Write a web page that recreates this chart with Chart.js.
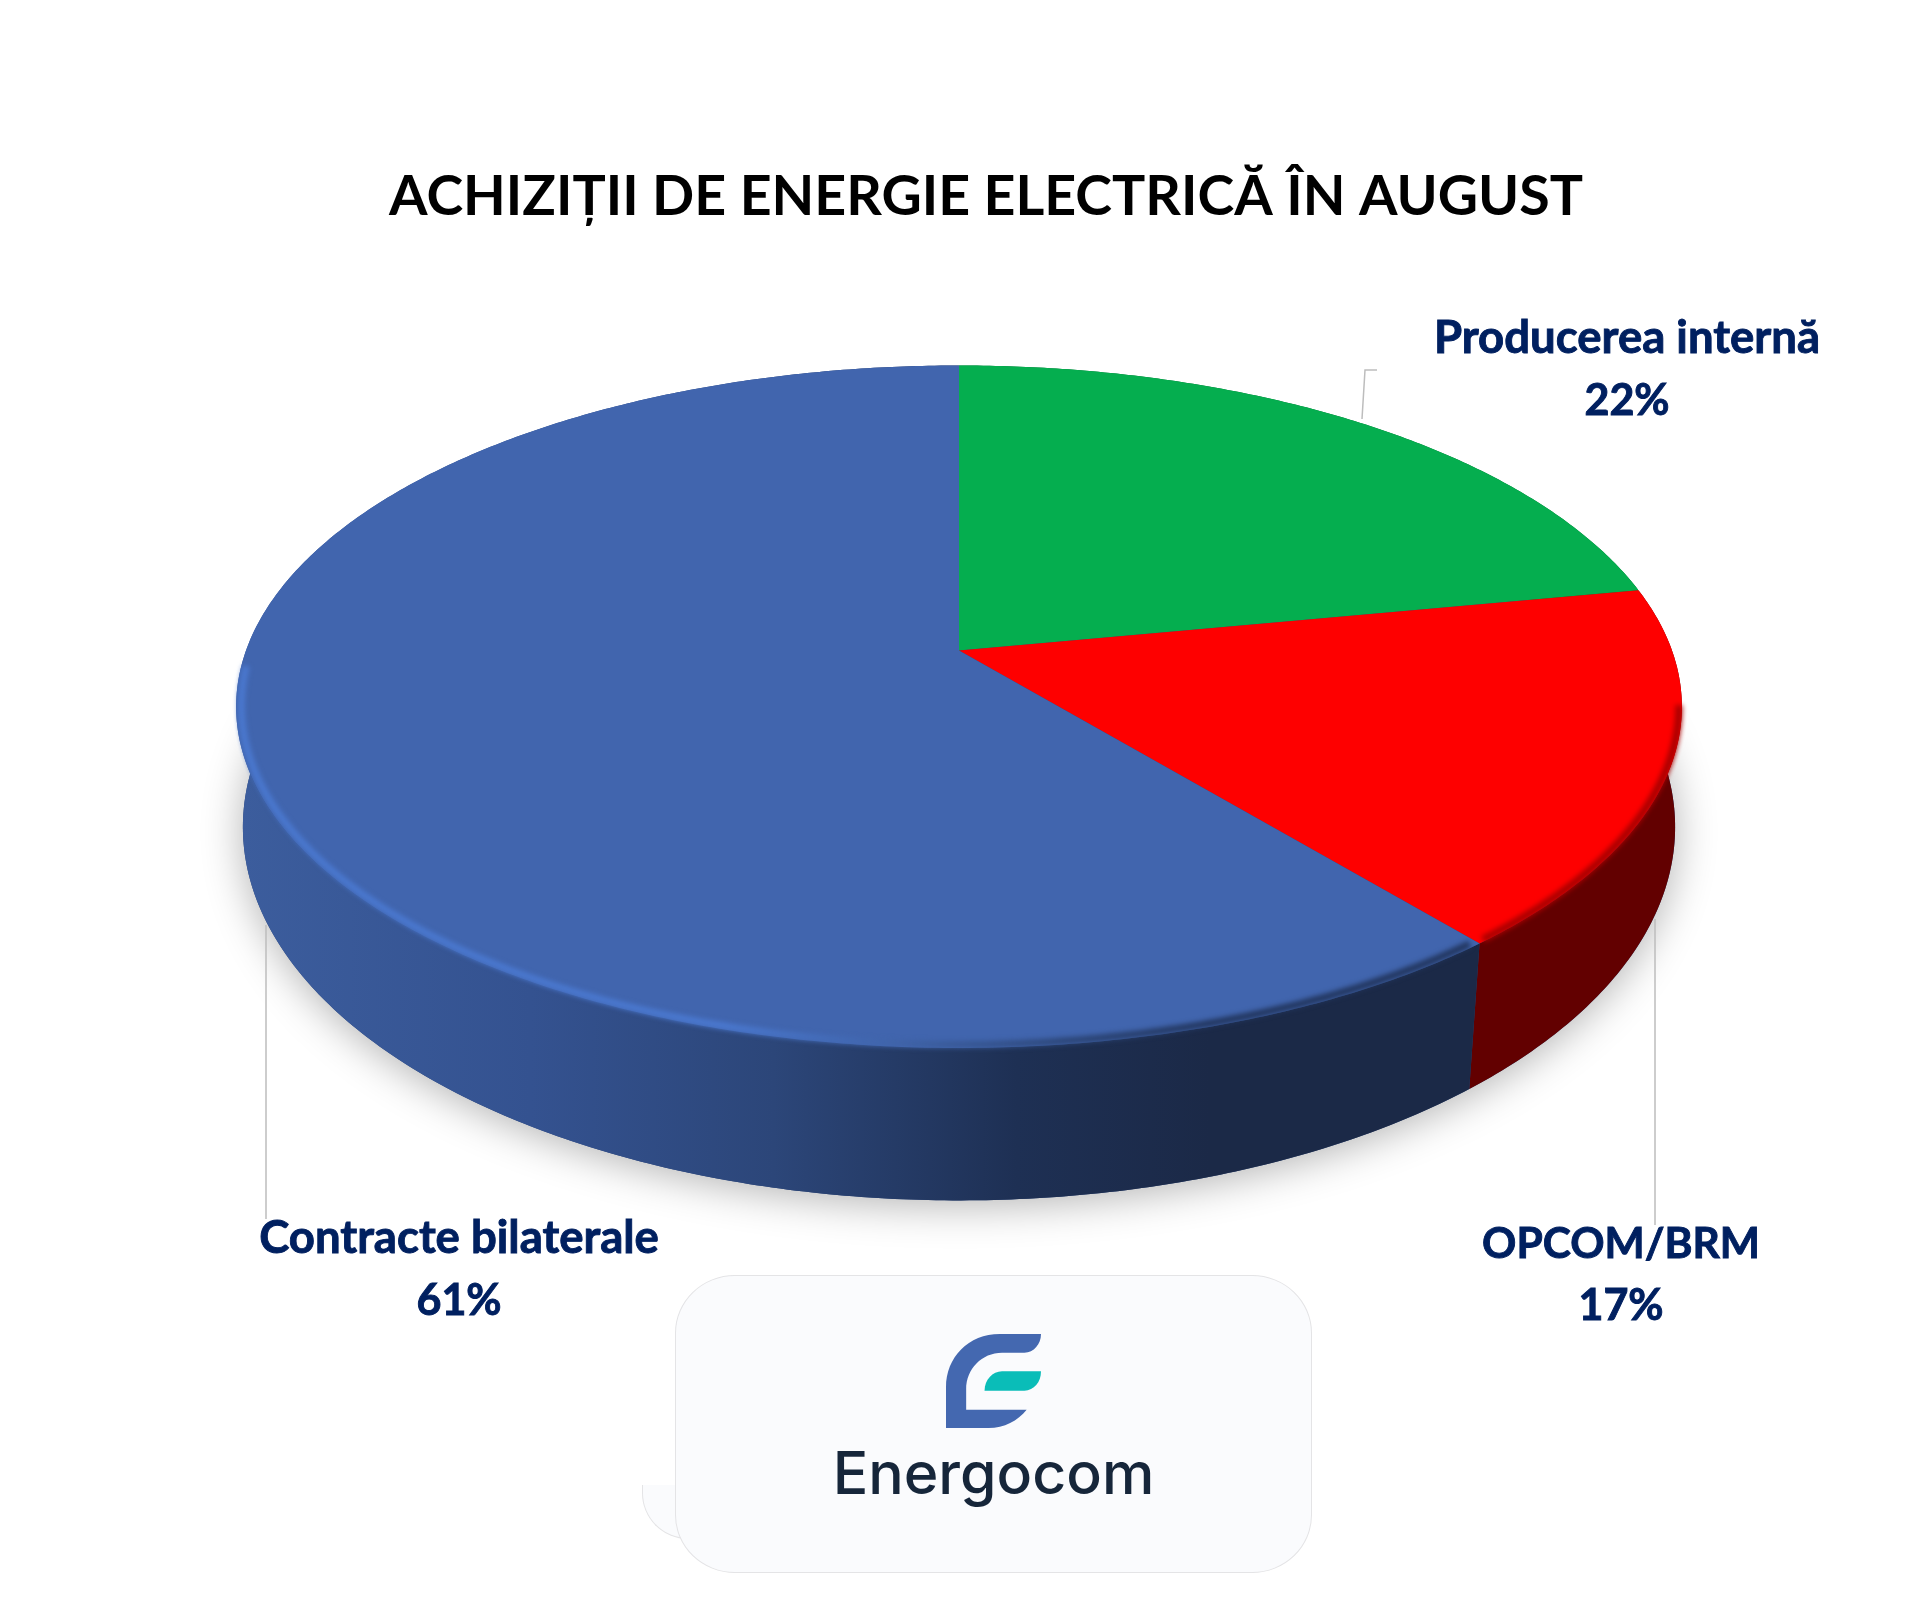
<!DOCTYPE html>
<html lang="ro">
<head>
<meta charset="UTF-8">
<title>Achiziții de energie electrică în august</title>
<script src="https://cdn.jsdelivr.net/npm/chart.js@4.4.1/dist/chart.umd.min.js"></script>
<style>
    html, body { margin: 0; background: #fff; }
    #wrap { position: relative; width: 1920px; height: 1610px; overflow: hidden; }
    canvas { display: block; }
    .tail {
        position: absolute; left: 642px; top: 1485px; width: 90px; height: 53px;
        background: #fafbfd; border-left: 1px solid #e4e4e6; border-bottom: 1px solid #e4e4e6;
        border-bottom-left-radius: 46px;
    }
    .logo {
        position: absolute; left: 675px; top: 1275px; width: 637px; height: 298px; box-sizing: border-box;
        background: #fafbfd; border: 1.5px solid #e4e4e6; border-radius: 60px / 58px;
    }
    .logo svg { position: absolute; left: 270px; top: 58px; }
    .logo span {
        position: absolute; left: 0; width: 100%; top: 161px; text-align: center;
        font: 500 59px Inter, sans-serif; color: #16263a; line-height: 72px;
    }
</style>
</head>
<body>
<div id="wrap">
    <canvas id="pie" width="1920" height="1610"></canvas>
    <div class="tail"></div>
    <div class="logo">
        <svg width="95" height="94" viewBox="0 0 212 282" preserveAspectRatio="none">
            <path fill="#4468b0" d="M120 0H212C212 30 196 56 175 56H125C80 56 45 105 45 165V227H180C160 260 130 282 95 282H0V160C0 70 50 0 120 0Z"/>
            <path fill="#0abdb8" d="M86 170C86 138 104 112 125 112H212C212 145 196 170 175 170Z"/>
        </svg>
        <span>Energocom</span>
    </div>
</div>

<script>
const titleText = 'ACHIZIȚII DE ENERGIE ELECTRICĂ ÎN AUGUST';
const categories = ['Producerea internă', 'OPCOM/BRM', 'Contracte bilaterale'];
const shares = [22, 17, 61];
const topColors = ['#05ae4f', '#fe0000', '#4165ae'];

// label anchor for each slice: center x, first baseline, name size
const labelX = [1627, 1621, 459];
const labelY = [353, 1258, 1253];
const labelSize = [45.5, 42.5, 45.5];

// leader lines, one per slice
const leaders = [
    [[1362, 419], [1365, 370], [1377, 370]],
    [[1655, 919], [1655, 1225]],
    [[266, 925], [266, 1219]]
];

// perspective of the disc: top face and the (slightly further) bottom face
const cx = 959;
const topRing = { cy: 650.5, ax: 713, by: 332, tilt: -0.1647 };
const bottomRing = { cy: 771, ax: 708, by: 365, tilt: -0.15 };

function project(angle, ring, r = 1) {
    const X = Math.cos(angle) * r, Y = Math.sin(angle) * r;
    const w = 1 + ring.tilt * Y;
    return [cx + ring.ax * X / w, ring.cy + ring.by * Y / w];
}

function arcPoints(from, to, ring, r) {
    const pts = [];
    const steps = Math.max(2, Math.ceil(Math.abs(to - from) / 0.01));
    for (let i = 0; i <= steps; i++) {
        pts.push(project(from + (to - from) * i / steps, ring, r));
    }
    return pts;
}

function tracePoints(ctx, pts, first) {
    pts.forEach((p, i) => {
        if (i === 0 && first) ctx.moveTo(p[0], p[1]);
        else ctx.lineTo(p[0], p[1]);
    });
}

function wallFill(ctx, index) {
    if (index === 1) return '#620000';
    if (index === 0) return '#036b30';
    const g = ctx.createLinearGradient(240, 0, 1210, 0);
    g.addColorStop(0, '#3c5d9d');
    g.addColorStop(0.3, '#345290');
    g.addColorStop(0.55, '#2c4679');
    g.addColorStop(0.8, '#1e3054');
    g.addColorStop(1, '#1b2947');
    return g;
}

const disc3d = {
    id: 'disc3d',
    beforeDatasetsDraw(chart) {
        const ctx = chart.ctx;
        const arcs = chart.getDatasetMeta(0).data;

        // soft shadow under the disc
        ctx.save();
        ctx.shadowColor = 'rgba(0,0,0,0.3)';
        ctx.shadowBlur = 42;
        ctx.shadowOffsetY = 5;
        ctx.fillStyle = '#2c4679';
        ctx.beginPath();
        tracePoints(ctx, arcPoints(0, Math.PI * 2, bottomRing), true);
        ctx.closePath();
        ctx.fill();
        ctx.restore();

        // side wall
        arcs.forEach((arc, i) => {
            ctx.beginPath();
            tracePoints(ctx, arcPoints(arc.startAngle, arc.endAngle, topRing), true);
            tracePoints(ctx, arcPoints(arc.endAngle, arc.startAngle, bottomRing), false);
            ctx.closePath();
            ctx.fillStyle = wallFill(ctx, i);
            ctx.fill();
        });

        // top face
        arcs.forEach((arc, i) => {
            ctx.beginPath();
            ctx.moveTo(cx, topRing.cy);
            tracePoints(ctx, arcPoints(arc.startAngle, arc.endAngle, topRing), false);
            ctx.closePath();
            ctx.fillStyle = arc.options.backgroundColor;
            ctx.fill();
        });

        // bevel along the front edge
        const red = arcs[1], blue = arcs[2];
        ctx.save();
        ctx.filter = 'blur(2.5px)';
        ctx.lineWidth = 7;
        ctx.beginPath();
        tracePoints(ctx, arcPoints(blue.startAngle + 0.01, Math.PI * 0.985, topRing, 0.993), true);
        const g = ctx.createLinearGradient(240, 0, 1210, 0);
        g.addColorStop(0, '#4a78cf');
        g.addColorStop(0.5, '#4a78cf');
        g.addColorStop(0.68, '#3f63a8');
        g.addColorStop(0.85, '#2c4678');
        g.addColorStop(1, '#22365f');
        ctx.strokeStyle = g;
        ctx.stroke();
        ctx.beginPath();
        tracePoints(ctx, arcPoints(red.startAngle + 0.35, red.endAngle - 0.01, topRing, 0.996), true);
        ctx.strokeStyle = '#a80000';
        ctx.stroke();
        ctx.restore();

        // leader lines
        ctx.strokeStyle = '#bdbdbd';
        ctx.lineWidth = 1.5;
        leaders.forEach(line => {
            ctx.beginPath();
            tracePoints(ctx, line, true);
            ctx.stroke();
        });

        // labels
        ctx.fillStyle = '#002060';
        ctx.strokeStyle = '#002060';
        ctx.lineWidth = 0.9;
        ctx.textAlign = 'center';
        ctx.textBaseline = 'alphabetic';
        categories.forEach((name, i) => {
            ctx.font = 'bold ' + labelSize[i] + 'px Lato, sans-serif';
            ctx.fillText(name, labelX[i], labelY[i]);
            ctx.strokeText(name, labelX[i], labelY[i]);
            ctx.font = 'bold 43px Lato, sans-serif';
            ctx.fillText(shares[i] + '%', labelX[i], labelY[i] + 62);
            ctx.strokeText(shares[i] + '%', labelX[i], labelY[i] + 62);
        });
        return false;
    }
};

new Chart(document.getElementById('pie').getContext('2d'), {
    type: 'pie',
    plugins: [disc3d],
    data: {
        labels: categories,
        datasets: [{ data: shares, backgroundColor: topColors, borderWidth: 0 }]
    },
    options: {
        responsive: false,
        animation: false,
        devicePixelRatio: 1,
        layout: { padding: { left: 52, top: 164 } },
        plugins: {
            legend: { display: false },
            tooltip: { enabled: false },
            title: {
                display: true,
                text: titleText,
                color: '#000',
                font: { family: 'Lato, sans-serif', size: 55.5, weight: 'bold', lineHeight: 1.2 },
                padding: 0
            }
        }
    }
});
</script>
</body>
</html>
